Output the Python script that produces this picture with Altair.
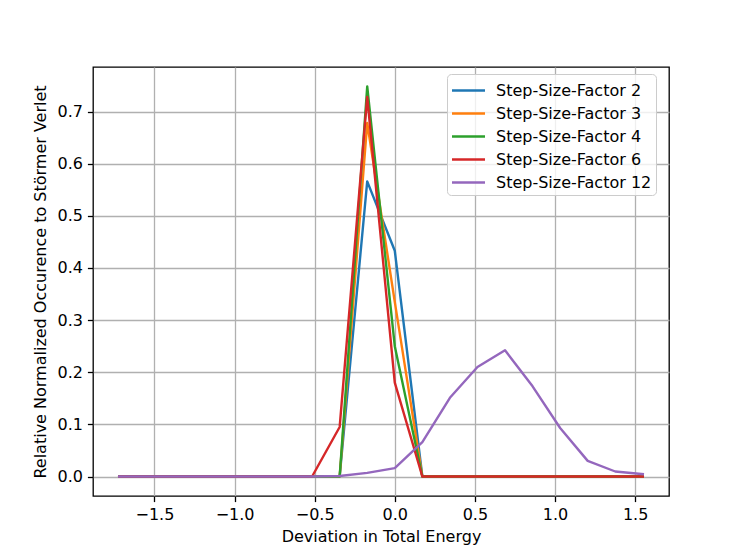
import altair as alt
import pandas as pd

x_vals = [-1.72, -1.548, -1.376, -1.204, -1.032, -0.86, -0.688, -0.516, -0.344, -0.172,
          0.0, 0.172, 0.344, 0.516, 0.688, 0.86, 1.032, 1.204, 1.376, 1.548]

factor2 = [0, 0, 0, 0, 0, 0, 0, 0, 0, 0.566, 0.433, 0, 0, 0, 0, 0, 0, 0, 0, 0]
factor3 = [0, 0, 0, 0, 0, 0, 0, 0, 0, 0.678, 0.335, 0, 0, 0, 0, 0, 0, 0, 0, 0]
factor4 = [0, 0, 0, 0, 0, 0, 0, 0, 0, 0.748, 0.25, 0, 0, 0, 0, 0, 0, 0, 0, 0]
factor6 = [0, 0, 0, 0, 0, 0, 0, 0, 0.095, 0.728, 0.18, 0, 0, 0, 0, 0, 0, 0, 0, 0]
factor12 = [0, 0, 0, 0, 0, 0, 0, 0, 0.001, 0.007, 0.016, 0.066, 0.151, 0.21, 0.242,
            0.173, 0.093, 0.03, 0.0096, 0.0045]

series_names = ["Step-Size-Factor 2", "Step-Size-Factor 3", "Step-Size-Factor 4",
                "Step-Size-Factor 6", "Step-Size-Factor 12"]
series_vals = [factor2, factor3, factor4, factor6, factor12]
colors = ["#1f77b4", "#ff7f0e", "#2ca02c", "#d62728", "#9467bd"]

rows = []
for name, vals in zip(series_names, series_vals):
    for xv, yv in zip(x_vals, vals):
        rows.append({"x": xv, "y": yv, "series": name})
df = pd.DataFrame(rows)

FONT = "DejaVu Sans"

color_enc = alt.Color(
    "series:N",
    scale=alt.Scale(domain=series_names, range=colors),
    title=None,
    legend=alt.Legend(
        orient="none",
        legendX=354,
        legendY=7,
        symbolType="M-1.5,0L1.5,0",
        symbolSize=484,
        symbolStrokeWidth=2.4,
        symbolFillColor="transparent",
        symbolOffset=5,
        labelFontSize=16,
        labelFont=FONT,
        labelColor="#000000",
        labelOffset=15,
        rowPadding=2,
        padding=4,
        fillColor="rgba(255,255,255,0.8)",
        strokeColor="#cccccc",
        cornerRadius=4,
    ),
)

x_enc = alt.X(
    "x:Q",
    scale=alt.Scale(domain=[-1.8834, 1.7114], nice=False, zero=False),
    axis=alt.Axis(
        title="Deviation in Total Energy",
        values=[-1.5, -1.0, -0.5, 0.0, 0.5, 1.0, 1.5],
        format=".1f",
        labelExpr="replace(format(datum.value, '.1f'), '-', '\u2212')",
    ),
)
y_enc = alt.Y(
    "y:Q",
    scale=alt.Scale(domain=[-0.0374, 0.7854], nice=False, zero=False),
    axis=alt.Axis(
        title="Relative Normalized Occurence to Störmer Verlet",
        values=[0.0, 0.1, 0.2, 0.3, 0.4, 0.5, 0.6, 0.7],
        format=".1f",
    ),
)

layers = []
for name in series_names:
    layers.append(
        alt.Chart(df)
        .transform_filter(alt.datum.series == name)
        .mark_line(strokeWidth=2.4, strokeCap="square", strokeJoin="round", clip=True)
        .encode(x=x_enc, y=y_enc, color=color_enc, order=alt.Order("x:Q"))
    )

chart = (
    alt.layer(*layers)
    .properties(
        width=576,
        height=429,
        autosize=alt.AutoSizeParams(type="none"),
        padding={"left": 85, "top": 59, "right": 60, "bottom": 50},
    )
    .configure(background="white")
    .configure_view(stroke="#000000", strokeWidth=1.3)
    .configure_axis(
        grid=True,
        gridColor="#b0b0b0",
        gridWidth=1.3,
        domain=False,
        tickColor="#000000",
        tickSize=5.6,
        tickWidth=1.3,
        labelFont=FONT,
        labelFontSize=16,
        labelColor="#000000",
        labelPadding=5,
        titleFont=FONT,
        titleFontSize=16,
        titleFontWeight="normal",
        titleColor="#000000",
    )
    .configure_axisX(titlePadding=6, labelFlush=False)
    .configure_axisY(titlePadding=8, labelFlush=False)
)

chart.save("out.html", embed_options={"renderer": "svg", "actions": False})
